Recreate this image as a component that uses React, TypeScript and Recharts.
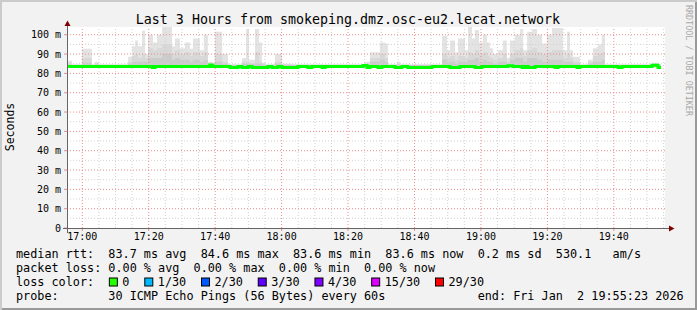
import React from 'react';
import { ComposedChart, Area, Line, XAxis, YAxis, CartesianGrid, ReferenceLine } from 'recharts';

// time axis: minutes of the day, window 16:55:23 .. 19:55:23
const START = 1015.4;
const END = 1195.4;
const SMOKE_BASE = 83.2;

const smokeTimes = [
  1015.4, 1016.9, 1019.9, 1022.9, 1023.8, 1025.0, 1033.8, 1035.0, 1035.9, 1036.8,
  1038.0, 1038.9, 1039.8, 1041.3, 1042.5, 1044.0, 1047.0, 1047.9, 1049.4, 1050.9,
  1052.4, 1053.3, 1055.4, 1056.6, 1057.8, 1059.3, 1059.9, 1062.1, 1063.9, 1068.1,
  1069.3, 1070.2, 1072.0, 1073.2, 1074.1, 1075.0, 1078.0, 1080.1, 1083.1, 1105.1,
  1106.6, 1109.6, 1111.1, 1112.0, 1114.7, 1115.6, 1128.3, 1129.8, 1130.7, 1132.2,
  1133.1, 1135.2, 1136.1, 1137.3, 1138.2, 1139.4, 1140.6, 1141.8, 1142.7, 1143.6,
  1145.1, 1146.6, 1147.8, 1148.7, 1150.2, 1151.8, 1152.7, 1153.9, 1155.4, 1156.9,
  1158.4, 1159.9, 1161.4, 1164.7, 1165.9, 1166.8, 1167.7, 1169.8, 1172.2, 1173.7,
  1175.2, 1176.4, 1177.3, 1191.5, 1193.3, 1194.2,
];
const smokeTop = [
  86.5, 84.5, 92.7, 84.5, 86, 84.5, 88.6, 94, 97, 94,
  102, 90, 100, 96, 100, 104, 94, 98, 93, 96,
  92.7, 98, 92, 100, 86, 84.5, 101.5, 90, 84.5, 88,
  103, 87, 103, 96, 85.5, 84.5, 90, 85, 84.5, 86,
  91, 96, 95.5, 84.5, 86, 84.5, 99.5, 92, 97, 91,
  98, 92, 104, 98, 102.5, 96, 100, 96, 93, 90,
  92, 97, 88, 97, 100, 103, 92, 101.5, 103, 100,
  95.5, 100, 103.5, 92, 101.5, 92, 88.6, 84.5, 87, 93,
  95, 100, 84.5, 85.5, 84.5, 84.5,
];
const smokeMid = [
  85, 84.5, 88, 84.5, 85, 84.5, 86, 89, 90, 88,
  90, 88, 93, 92, 93, 95, 90, 92, 90, 91,
  89, 91, 89, 91, 85, 84.5, 90, 86, 84.5, 86,
  86, 85, 91, 86, 85, 84.5, 86, 84.5, 84.5, 85,
  88, 90, 88, 84.5, 85, 84.5, 90, 88, 89, 87,
  89, 88, 91, 90, 92, 90, 91, 89, 88, 87,
  88, 90, 86, 90, 92, 93, 89, 92, 93, 91,
  90, 91, 92, 88, 90, 88, 86, 84.5, 86, 89,
  90, 91, 84.5, 85, 84.5, 84.5,
];
const smokeCore = [
  84.5, 84.5, 85.5, 84.5, 84.5, 84.5, 85, 86, 86, 86,
  86, 86, 88, 88, 88, 90, 87, 88, 87, 87,
  86, 87, 86, 87, 85, 84.5, 86, 85, 84.5, 85,
  85, 85, 85, 85, 84.5, 84.5, 85, 84.5, 84.5, 84.5,
  86, 87, 86, 84.5, 84.5, 84.5, 87, 86, 86, 85,
  86, 86, 87, 87, 88, 86, 87, 86, 86, 85,
  86, 86, 85, 87, 88, 88, 86, 88, 88, 87,
  86, 87, 87, 86, 86, 86, 85, 84.5, 85, 86,
  86, 87, 84.5, 84.5, 84.5, 84.5,
];

const medianTimes = [
  1015.4, 1041.0, 1041.9, 1058.4, 1059.3, 1064.5, 1066.9, 1068.1, 1069.9, 1071.1,
  1075.9, 1077.1, 1078.9, 1080.1, 1084.9, 1087.9, 1089.1, 1092.2, 1093.1, 1104.5,
  1105.7, 1106.6, 1109.0, 1110.2, 1114.1, 1116.2, 1118.0, 1125.3, 1130.7, 1133.7,
  1138.2, 1140.3, 1148.1, 1149.6, 1152.4, 1153.3, 1154.2, 1156.3, 1162.3, 1163.2,
  1168.9, 1169.8, 1181.3, 1182.5, 1191.5, 1193.3, 1194.2,
];
const medianValues = [
  83.6, 83.1, 83.6, 84.4, 83.6, 83.1, 83.6, 83.1, 83.6, 83.1,
  83.6, 83.1, 83.6, 83.1, 83.6, 83.1, 83.6, 83.1, 83.6, 84.1,
  83.1, 83.6, 83.1, 83.6, 83.1, 83.6, 83.1, 83.6, 83.1, 83.6,
  83.1, 83.6, 84.0, 83.6, 83.1, 83.6, 83.1, 83.6, 83.1, 83.6,
  83.1, 83.6, 83.1, 83.6, 84.2, 83.1, 83.1,
];

const timeTicks = ['17:00', '17:20', '17:40', '18:00', '18:20', '18:40', '19:00', '19:20', '19:40'];
const msTicks = [0, 10, 20, 30, 40, 50, 60, 70, 80, 90, 100];

const lossLabels = ['0', '1/30', '2/30', '3/30', '4/30', '15/30', '29/30'];
const lossColors = ['#26ff00', '#00b8ff', '#0059ff', '#5e00ff', '#7e00ff', '#dd00ff', '#ff0000'];

const toMin = (s: string) => {
  const [h, m] = s.split(':').map(Number);
  return h * 60 + m;
};
const fmtTime = (v: number) => {
  const h = Math.floor(v / 60);
  const m = Math.round(v - h * 60);
  return `${h}:${String(m).padStart(2, '0')}`;
};

const tickMinutes = timeTicks.map(toMin);
const minorMinutes: number[] = [];
for (let m = 1020; m < END; m += 5) if (m % 20 !== 0) minorMinutes.push(m);
const minorMs = [5, 15, 25, 35, 45, 55, 65, 75, 85, 95];

const smokeData = smokeTimes.map((t, i) => ({
  t,
  outer: [SMOKE_BASE, smokeTop[i]],
  mid: [SMOKE_BASE, smokeMid[i]],
  core: [SMOKE_BASE, smokeCore[i]],
}));
const medianData = medianTimes.map((t, i) => ({ t, rtt: medianValues[i] }));

const MONO = '"DejaVu Sans Mono", monospace';
const GRID = '#d1d1d1';
const MGRID = '#eb8c8c';

const CW = 7.09;
const col = (c: number) => 16 + c * CW;
const lossCols = [15, 20, 28, 36, 44, 52, 61];

export default function App() {
  return (
    <div
      style={{
        position: 'absolute',
        left: 0,
        top: 0,
        width: 697,
        height: 310,
        background: '#f2f2f2',
        boxShadow: 'inset 2px 2px 0 #cbcbcb, inset -2px -2px 0 #999999',
      }}
    >
      <ComposedChart width={697} height={310} margin={{ top: 27, right: 32, bottom: 68, left: 17 }}>
        <CartesianGrid fill="#ffffff" stroke="none" horizontal={false} vertical={false} />
        <XAxis
          type="number"
          dataKey="t"
          domain={[START, END]}
          allowDataOverflow
          ticks={tickMinutes}
          interval={0}
          tickFormatter={fmtTime}
          axisLine={false}
          tickLine={{ stroke: MGRID }}
          tickSize={3}
          tickMargin={2}
          height={14}
          tick={{ fontFamily: MONO, fontSize: 10, fill: '#000' }}
        />
        <YAxis
          type="number"
          domain={[0, 104]}
          allowDataOverflow
          ticks={msTicks}
          interval={0}
          tickFormatter={(v: number) => (v === 0 ? '0' : `${v} m`)}
          axisLine={false}
          tickLine={{ stroke: MGRID }}
          tickSize={3}
          tickMargin={3}
          width={50}
          tick={{ fontFamily: MONO, fontSize: 10, fill: '#000' }}
        />
        <Area data={smokeData} dataKey="outer" type="stepAfter" stroke="none" fill="#e3e3e3" fillOpacity={1} isAnimationActive={false} />
        <Area data={smokeData} dataKey="mid" type="stepAfter" stroke="none" fill="#d8d8d8" fillOpacity={1} isAnimationActive={false} />
        <Area data={smokeData} dataKey="core" type="stepAfter" stroke="none" fill="#cbcbcb" fillOpacity={1} isAnimationActive={false} />
        {minorMinutes.map((m) => (
          <ReferenceLine key={'vx' + m} x={m} stroke={GRID} strokeDasharray="1 2" />
        ))}
        {minorMs.map((v) => (
          <ReferenceLine key={'hy' + v} y={v} stroke={GRID} strokeDasharray="1 2" />
        ))}
        {tickMinutes.map((m) => (
          <ReferenceLine key={'VX' + m} x={m} stroke={MGRID} strokeDasharray="1 2" />
        ))}
        {msTicks.filter((v) => v > 0).map((v) => (
          <ReferenceLine key={'HY' + v} y={v} stroke={MGRID} strokeDasharray="1 2" />
        ))}
        <Line data={medianData} dataKey="rtt" type="stepAfter" stroke="#00ff00" strokeWidth={3} dot={false} isAnimationActive={false} />
      </ComposedChart>

      <svg width={697} height={310} style={{ position: 'absolute', left: 0, top: 0, pointerEvents: 'none' }}>
        <line x1={67.5} y1={233} x2={67.5} y2={24} stroke="#666" strokeWidth={1} />
        <line x1={63} y1={228.5} x2={670} y2={228.5} stroke="#666" strokeWidth={1} />
        <polygon points="67.5,20.5 64.5,26 70.5,26" fill="#800000" />
        <polygon points="674.5,228.5 669,225.5 669,231.5" fill="#800000" />

        <text x={348} y={24} textAnchor="middle" fontFamily={MONO} fontSize={13.3} fill="#000">
          Last 3 Hours from smokeping.dmz.osc-eu2.lecat.network
        </text>
        <text x={13.5} y={127} transform="rotate(-90 13.5 127)" textAnchor="middle" fontFamily={MONO} fontSize={11.5} fill="#000">
          Seconds
        </text>
        <text x={686} y={5} transform="rotate(90 686 5)" fontFamily={MONO} fontSize={8.4} fill="#a8a8a8">
          RRDTOOL / TOBI OETIKER
        </text>

        <g fontFamily={MONO} fontSize={11.8} fill="#000" style={{ whiteSpace: 'pre' }}>
          <text x={16} y={257.5} xmlSpace="preserve">
            {'median rtt:  83.7 ms avg  84.6 ms max  83.6 ms min  83.6 ms now  0.2 ms sd  530.1   am/s'}
          </text>
          <text x={16} y={271.5} xmlSpace="preserve">
            {'packet loss: 0.00 % avg  0.00 % max  0.00 % min  0.00 % now'}
          </text>
          <text x={16} y={285.5} xmlSpace="preserve">
            {'loss color:'}
          </text>
          {lossLabels.map((l, i) => (
            <g key={l}>
              <rect x={col(lossCols[i]) - 13} y={278} width={8} height={8} fill={lossColors[i]} stroke="#000" strokeWidth={1} />
              <text x={col(lossCols[i])} y={285.5}>{l}</text>
            </g>
          ))}
          <text x={16} y={299.5} xmlSpace="preserve">
            {'probe:       30 ICMP Echo Pings (56 Bytes) every 60s             end: Fri Jan  2 19:55:23 2026'}
          </text>
        </g>
      </svg>
    </div>
  );
}
